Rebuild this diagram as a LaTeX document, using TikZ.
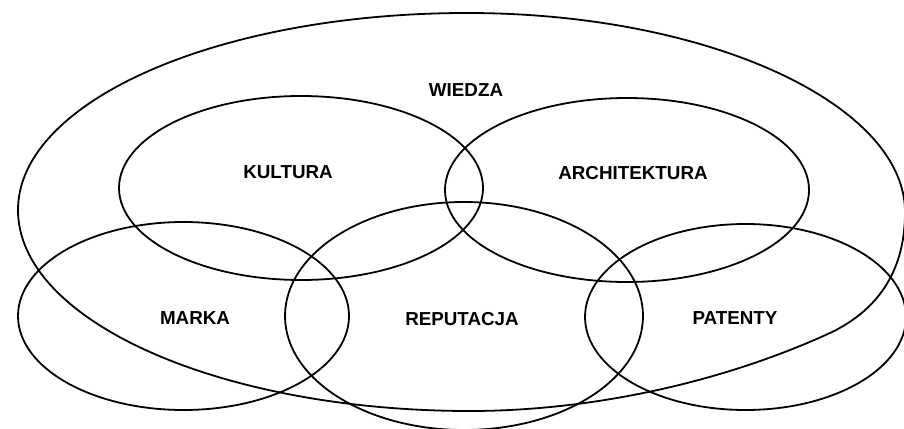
\documentclass[tikz,border=0pt]{standalone}
\usepackage{fontspec}
\setmainfont{Liberation Sans}
\begin{document}
\begin{tikzpicture}[x=1pt,y=-1pt,
  ring/.style={draw=black,line width=1.8pt},
  lbl/.style={font=\bfseries\fontsize{18.8}{22}\selectfont,inner sep=0pt,text height=13.5pt,text depth=0pt}]
\useasboundingbox (0,0) rectangle (904,428);
% WIEDZA blob
\coordinate (bT) at (467,13);
\coordinate (bR) at (905,212);
\coordinate (bM) at (830,333);
\coordinate (bB) at (470,411);
\coordinate (bL) at (18,210);
\draw[ring] (bL) .. controls (18,101) and (219,13) .. (bT)
  .. controls (710,13) and (905,105) .. (bR)
  .. controls (905,252) and (893,303) .. (bM)
  .. controls (721,383) and (590,411) .. (bB)
  .. controls (220,411) and (18,321) .. (bL) -- cycle;
% ellipses
\draw[ring] (301,188) ellipse [x radius=182, y radius=92];
\draw[ring] (627,190) ellipse [x radius=182, y radius=92];
\draw[ring] (183.5,316) ellipse [x radius=165.5, y radius=94];
\draw[ring] (464,316) ellipse [x radius=179, y radius=114];
\draw[ring] (745.5,317) ellipse [x radius=160.5, y radius=93];
% labels
\node[lbl] (wiedza) at (466,89.5) {WIEDZA};
\node[lbl] (kultura) at (288,172) {KULTURA};
\node[lbl] (arch) at (633,173) {ARCHITEKTURA};
\node[lbl] (marka) at (195,318) {MARKA};
\node[lbl] (reput) at (462,319) {REPUTACJA};
\node[lbl] (patenty) at (735,318) {PATENTY};
\end{tikzpicture}
\end{document}
